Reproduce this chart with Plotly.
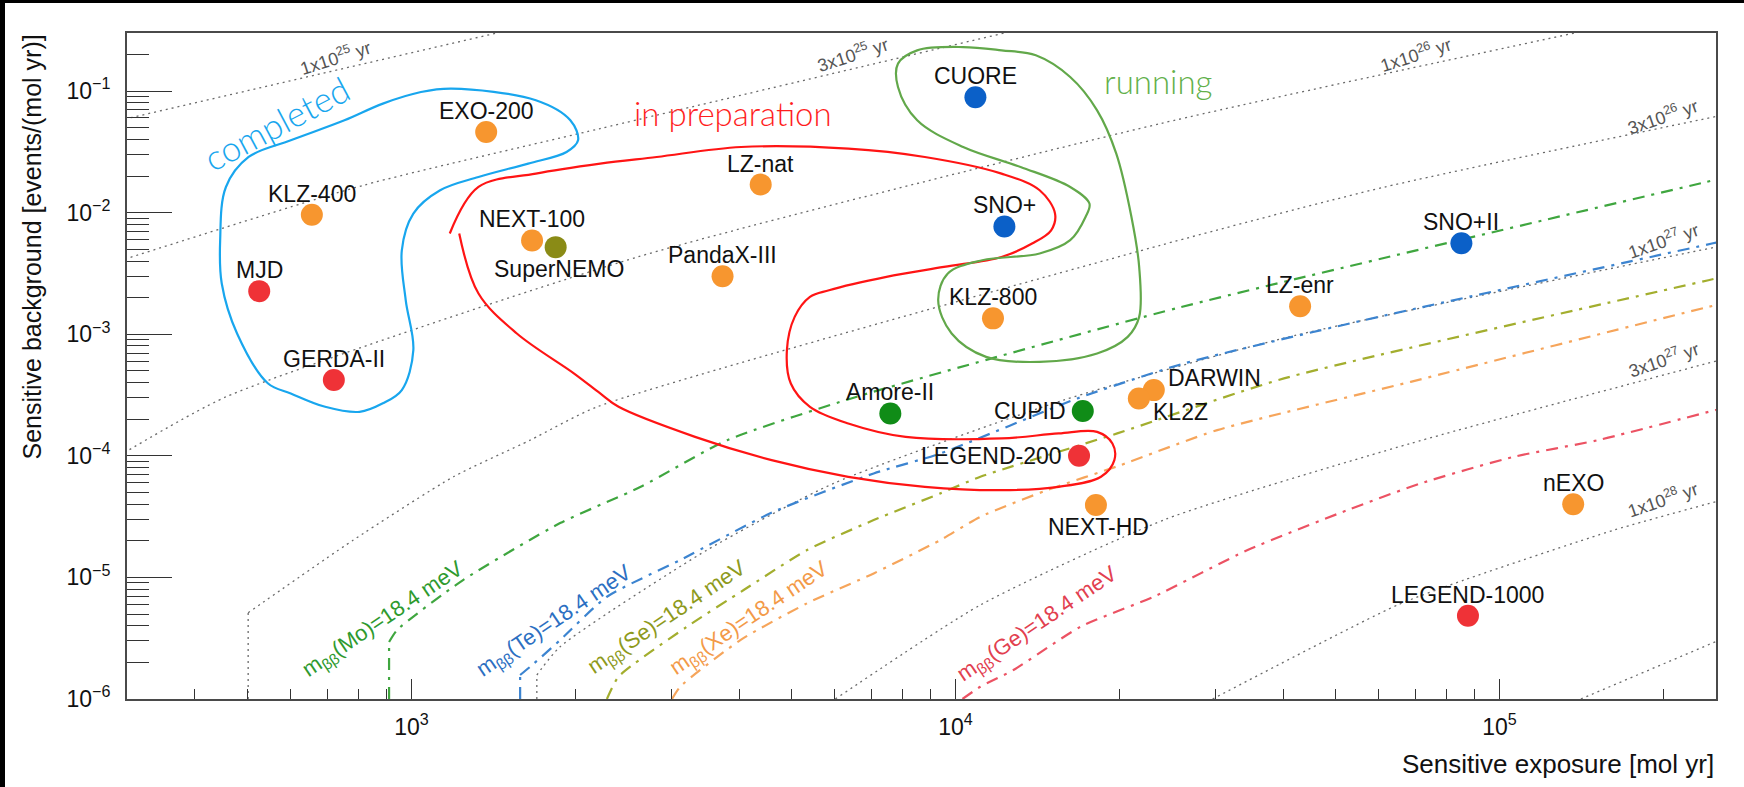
import math
import plotly.graph_objects as go

# ---------------- experiments ----------------
exp_names = ["EXO-200", "KLZ-400", "MJD", "GERDA-II", "NEXT-100", "SuperNEMO", "LZ-nat",
             "PandaX-III", "CUORE", "SNO+", "KLZ-800", "SNO+II", "LZ-enr", "Amore-II",
             "CUPID", "LEGEND-200", "NEXT-HD", "DARWIN", "KL2Z", "nEXO", "LEGEND-1000"]
exp_exposure = [1372, 656, 525, 720, 1666, 1841, 4385, 3731, 10880, 12300, 11720, 85100,
                43000, 7590, 17140, 16870, 18120, 23150, 21730, 136600, 87500]
exp_background = [0.046, 0.0096, 0.00226, 4.2e-4, 0.0059, 0.0052, 0.017, 0.0030, 0.089,
                  0.0077, 0.00135, 0.0056, 0.0017, 2.23e-4, 2.34e-4, 1.0e-4, 3.94e-5,
                  3.47e-4, 2.96e-4, 4.0e-5, 4.84e-6]
exp_isotope = ["Xe", "Xe", "Ge", "Ge", "Xe", "Se", "Xe", "Xe", "Te", "Te", "Xe", "Te", "Xe",
               "Mo", "Mo", "Ge", "Xe", "Xe", "Xe", "Xe", "Ge"]

# ---------------- half-life iso-lines ----------------
t1e25_exposure = [290, 1450]
t1e25_background = [0.0573, 0.303]
t3e25_exposure = [290, 817, 2223, 12500]
t3e25_background = [0.0040, 0.0168, 0.0491, 0.305]
t1e26_exposure = [290, 456, 2605, 23820, 140000]
t1e26_background = [1.0e-4, 3.05e-4, 4.32e-3, 0.054, 0.305]
t3e26_exposure = [501, 501, 782, 1194, 1653, 2195, 23820, 61400, 260000]
t3e26_background = [1e-6, 5.12e-6, 2.03e-5, 6.72e-5, 1.345e-4, 2.53e-4, 5.39e-3, 0.0162, 0.064]
t1e27_exposure = [1700, 1700, 1876, 3493, 5970, 15790, 40110, 260000]
t1e27_background = [1e-6, 1.575e-6, 2.69e-6, 1.678e-5, 5.93e-5, 2.87e-4, 9.28e-4, 5.4e-3]
t3e27_exposure = [6013, 11110, 24300, 68660, 260000]
t3e27_background = [1e-6, 5.93e-6, 3.0e-5, 1.264e-4, 6.3e-4]
t1e28_exposure = [29690, 64920, 86060, 162400, 260000]
t1e28_background = [1e-6, 5.93e-6, 9.51e-6, 2.45e-5, 4.4e-5]
t3e28_exposure = [141100, 260000]
t3e28_background = [1e-6, 3.2e-6]

halflife_lines = [
    (t1e25_exposure, t1e25_background), (t3e25_exposure, t3e25_background),
    (t1e26_exposure, t1e26_background), (t3e26_exposure, t3e26_background),
    (t1e27_exposure, t1e27_background), (t3e27_exposure, t3e27_background),
    (t1e28_exposure, t1e28_background), (t3e28_exposure, t3e28_background),
]
halflife_labels = ["1x10<sup>25</sup> yr", "3x10<sup>25</sup> yr", "1x10<sup>26</sup> yr",
                   "3x10<sup>26</sup> yr", "1x10<sup>27</sup> yr", "3x10<sup>27</sup> yr",
                   "1x10<sup>28</sup> yr"]

# ---------------- m_bb = 18.4 meV discovery curves ----------------
mo_exposure = [909.6, 909.6, 941, 1244, 1876, 2633, 3806, 6544, 25930, 238500, 260000]
mo_background = [1e-6, 2.94e-6, 3.69e-6, 9.51e-6, 2.797e-5, 5.53e-5, 1.345e-4, 3.035e-4,
                 1.668e-3, 0.01776, 0.0195]
te_exposure = [1584, 1584, 1653, 1876, 2287, 3119, 4630, 7073, 9383, 16740, 26290, 56340,
               245700, 260000]
te_background = [1e-6, 1.575e-6, 1.842e-6, 3.05e-6, 6.93e-6, 1.389e-5, 3.46e-5, 7.16e-5,
                 1.046e-4, 2.96e-4, 5.74e-4, 1.304e-3, 5.57e-3, 5.9e-3]
se_exposure = [2287, 2403, 3209, 4080, 5335, 7073, 9383, 11110, 19830, 40160, 242100, 260000]
se_background = [1e-6, 1.525e-6, 3.93e-6, 7.87e-6, 1.678e-5, 2.96e-5, 4.91e-5, 6.72e-5,
                 1.528e-4, 4.33e-4, 2.78e-3, 3.0e-3]
xe_exposure = [3012, 3119, 4023, 5335, 7073, 9383, 11110, 14740, 20110, 30280, 68660,
               242100, 260000]
xe_background = [1e-6, 1.262e-6, 3.05e-6, 6.12e-6, 1.079e-5, 2.03e-5, 3.15e-5, 5.22e-5,
                 8.38e-5, 1.626e-4, 4.06e-4, 1.677e-3, 1.8e-3]
ge_exposure = [10300, 11110, 12780, 16980, 23120, 34430, 52580, 71640, 106200, 151600, 260000]
ge_background = [1e-6, 1.262e-6, 1.731e-6, 3.93e-6, 6.93e-6, 1.678e-5, 3.58e-5, 5.93e-5,
                 9.81e-5, 1.345e-4, 2.5e-4]

# ---------------- status outlines ----------------
completed_exposure = [1185, 1693, 1959, 2024, 1928, 1639, 1328, 1129, 1008, 960, 976, 1008,
                      960, 886, 803, 694, 600, 545, 478, 448, 445, 456, 502, 600, 753, 886,
                      1041, 1185]
completed_background = [0.1046, 0.0839, 0.0574, 0.0393, 0.0315, 0.0253, 0.01963, 0.01527,
                        0.00982, 0.0049, 0.001904, 7.39e-4, 3.47e-4, 2.70e-4, 2.30e-4,
                        2.53e-4, 3.26e-4, 3.93e-4, 1.014e-3, 2.61e-3, 5.93e-3, 0.01625,
                        0.02868, 0.0393, 0.0574, 0.0788, 0.0981, 0.1046]
preparation_exposure = [1176, 1328, 1693, 2223, 2824, 4035, 6352, 8784, 12150, 14280, 15240,
                        14990, 13830, 12150, 9522, 7467, 5855, 5401, 5063, 4899, 4981, 5401,
                        6352, 8097, 12150, 15480, 18210, 19430, 19590, 18510, 15480, 12150,
                        8784, 6352, 4592, 3321, 2403, 2223, 1991, 1562, 1328, 1224]
preparation_background = [6.73e-3, 0.01625, 0.02094, 0.0253, 0.02868, 0.03465, 0.0336,
                          0.02868, 0.02094, 0.01527, 0.00982, 7.16e-3, 5.57e-3, 4.32e-3,
                          3.574e-3, 2.96e-3, 2.30e-3, 2.026e-3, 1.388e-3, 7.39e-4, 3.93e-4,
                          2.53e-4, 1.846e-4, 1.432e-4, 1.39e-4, 1.528e-4, 1.574e-4, 1.264e-4,
                          9.21e-5, 6.72e-5, 5.56e-5, 5.22e-5, 5.56e-5, 6.72e-5, 9.21e-5,
                          1.432e-4, 2.53e-4, 3.26e-4, 4.75e-4, 1.014e-3, 2.16e-3, 6.73e-3]
running_exposure = [14050, 16250, 18210, 19750, 21060, 21760, 21760, 20730, 18210, 14280,
                    11380, 9838, 9294, 9681, 11200, 14280, 16250, 17340, 17630, 16250, 13170,
                    10330, 8504, 7840, 7840, 8504, 10330, 12150, 14050]
running_background = [0.1965, 0.1303, 0.0694, 0.03057, 9.21e-3, 3.57e-3, 1.388e-3, 9.51e-4,
                      6.94e-4, 5.92e-4, 6.51e-4, 1.014e-3, 1.904e-3, 3.155e-3, 4.06e-3,
                      4.61e-3, 5.93e-3, 9.21e-3, 0.01187, 0.01625, 0.02373, 0.03465, 0.0574,
                      0.1079, 0.168, 0.216, 0.230, 0.216, 0.1965]

x_tick_values = [1e3, 1e4, 1e5]
x_tick_labels = ["10<sup>3</sup>", "10<sup>4</sup>", "10<sup>5</sup>"]
y_tick_values = [1e-6, 1e-5, 1e-4, 1e-3, 1e-2, 1e-1]
y_tick_labels = ["10<sup>\u22126</sup>", "10<sup>\u22125</sup>", "10<sup>\u22124</sup>",
                 "10<sup>\u22123</sup>", "10<sup>\u22122</sup>", "10<sup>\u22121</sup>"]

# ---------------- styling ----------------
W, H = 1744, 787
ML, MR, MT, MB = 127, 28, 33, 88
PW, PH = W - ML - MR, H - MT - MB

FONT = "Liberation Sans, Arial, Helvetica, sans-serif"
THIN = "Lato Light, Open Sans Light, Roboto Light, Lato, Open Sans, sans-serif"
dot_colors = {"Xe": "#F7962F", "Ge": "#EF3237", "Te": "#0B60C8", "Mo": "#108C17", "Se": "#8A8B16"}
GRAY = "#6A6A6A"
DASHDOT = "12px,7px,3px,7px"


def px_to_paper(x, y):
    return (x - ML) / PW, (H - MB - y) / PH


fig = go.Figure()


def add_curve(xs, ys, line_style):
    """Draw a sensitivity curve; a leading vertical (background-free) segment
    is kept straight so the knee stays sharp, the rest is smoothed."""
    if len(xs) > 2 and xs[0] == xs[1]:
        fig.add_trace(go.Scatter(x=xs[:2], y=ys[:2], mode="lines", hoverinfo="skip",
                                 showlegend=False, line=dict(line_style, shape="linear")))
        xs, ys = xs[1:], ys[1:]
    fig.add_trace(go.Scatter(x=xs, y=ys, mode="lines", hoverinfo="skip", showlegend=False,
                             line=dict(line_style, shape="spline", smoothing=0.6)))


for xs, ys in halflife_lines:
    add_curve(xs, ys, dict(color=GRAY, width=1.3, dash="2px,4px"))

mbb_curves = [
    (mo_exposure, mo_background, "#3FA63F"),
    (te_exposure, te_background, "#3C84D0"),
    (se_exposure, se_background, "#A3AE2E"),
    (xe_exposure, xe_background, "#F6A55B"),
    (ge_exposure, ge_background, "#EC5263"),
]
for xs, ys, col in mbb_curves:
    add_curve(xs, ys, dict(color=col, width=2.2, dash=DASHDOT))

outlines = [
    (completed_exposure, completed_background, "#18A6EE"),
    (preparation_exposure, preparation_background, "#FF1414"),
    (running_exposure, running_background, "#62A84A"),
]
for xs, ys, col in outlines:
    fig.add_trace(go.Scatter(x=xs, y=ys, mode="lines", hoverinfo="skip", showlegend=False,
                             line=dict(color=col, width=2.2, shape="spline", smoothing=1.0)))

fig.add_trace(go.Scatter(
    x=exp_exposure, y=exp_background, mode="markers", hoverinfo="skip", showlegend=False,
    marker=dict(size=22, color=[dot_colors[i] for i in exp_isotope], line=dict(width=0)),
))

annotations = []

# experiment names
label_side = {"SuperNEMO": "below", "NEXT-HD": "below", "CUPID": "left",
              "LEGEND-200": "left", "DARWIN": "upright", "KL2Z": "downright"}
for name, ex, bg in zip(exp_names, exp_exposure, exp_background):
    side = label_side.get(name, "above")
    a = dict(x=math.log10(ex), y=math.log10(bg), xref="x", yref="y", text=name,
             showarrow=False, font=dict(family=FONT, size=23, color="#111111"))
    if side == "above":
        a.update(xanchor="center", yanchor="middle", yshift=21)
    elif side == "below":
        a.update(xanchor="center", yanchor="middle", yshift=-22, xshift=3)
    elif side == "left":
        a.update(xanchor="right", yanchor="middle", xshift=-15)
    elif side == "upright":
        a.update(xanchor="left", yanchor="middle", xshift=12, yshift=12)
    elif side == "downright":
        a.update(xanchor="left", yanchor="middle", xshift=12, yshift=-13)
    annotations.append(a)

# half-life labels
halflife_label_pos = [(335, 58, -18), (852, 54, -18), (1415, 54, -18), (1662, 116, -19),
                      (1663, 241, -19), (1663, 359, -19), (1662, 499, -19)]
for txt, (px, py, ang) in zip(halflife_labels, halflife_label_pos):
    xp, yp = px_to_paper(px, py)
    annotations.append(dict(x=xp, y=yp, xref="paper", yref="paper", text=txt, showarrow=False,
                            textangle=ang, xanchor="center", yanchor="middle",
                            font=dict(family=FONT, size=18, color="#555555")))

# m_bb labels
mbb_labels = [("Mo", "#2E9A2E", 383, 620), ("Te", "#2C6FC2", 554, 622),
              ("Se", "#8E9A1C", 667, 618), ("Xe", "#F39A48", 749, 619),
              ("Ge", "#E2404F", 1037, 625)]
for iso, col, px, py in mbb_labels:
    xp, yp = px_to_paper(px, py)
    annotations.append(dict(x=xp, y=yp, xref="paper", yref="paper",
                            text=f"m<sub>\u03b2\u03b2</sub>({iso})=18.4 meV", showarrow=False,
                            textangle=-34, xanchor="center", yanchor="middle",
                            font=dict(family=FONT, size=22, color=col)))

# status captions
captions = [("completed", "#18A6EE", 276, 123, -28, 35),
            ("in preparation", "#FF1E1E", 733, 113, 0, 33),
            ("running", "#62B04A", 1158, 81, 0, 33)]
for txt, col, px, py, ang, sz in captions:
    xp, yp = px_to_paper(px, py)
    annotations.append(dict(x=xp, y=yp, xref="paper", yref="paper", text=txt, showarrow=False,
                            textangle=ang, xanchor="center", yanchor="middle",
                            font=dict(family=THIN, size=sz, color=col, weight=300)))

# axis titles
annotations.append(dict(x=1.0, y=px_to_paper(0, 764)[1], xref="paper", yref="paper",
                        text="Sensitive exposure [mol yr]", showarrow=False,
                        xanchor="right", yanchor="middle",
                        font=dict(family=FONT, size=26, color="#111111")))
annotations.append(dict(x=px_to_paper(31, 0)[0], y=1.0, xref="paper", yref="paper",
                        text="Sensitive background [events/(mol yr)]", showarrow=False,
                        textangle=-90, xanchor="center", yanchor="top",
                        font=dict(family=FONT, size=25, color="#111111")))

# black frame strips along the left and top edges of the picture
shapes = [
    dict(type="rect", xref="paper", yref="paper", x0=px_to_paper(0, 0)[0], x1=px_to_paper(5, 0)[0],
         y0=px_to_paper(0, H)[1], y1=px_to_paper(0, 0)[1], fillcolor="black", line=dict(width=0)),
    dict(type="rect", xref="paper", yref="paper", x0=px_to_paper(0, 0)[0], x1=px_to_paper(W, 0)[0],
         y0=px_to_paper(0, 3)[1], y1=px_to_paper(0, 0)[1], fillcolor="black", line=dict(width=0)),
]

x_minor = [m * 10 ** e for e in (2, 3, 4, 5) for m in range(2, 10)]
y_minor = [m * 10.0 ** e for e in (-6, -5, -4, -3, -2, -1) for m in range(2, 10)]

fig.update_layout(
    width=W, height=H,
    margin=dict(l=ML, r=MR, t=MT, b=MB),
    paper_bgcolor="white", plot_bgcolor="white",
    annotations=annotations, shapes=shapes,
    xaxis=dict(type="log", range=[math.log10(300), math.log10(2.5e5)],
               tickmode="array", tickvals=x_tick_values, ticktext=x_tick_labels,
               ticks="inside", ticklen=20, tickwidth=1.4, tickcolor="#333333",
               showline=True, linecolor="#4A4A4A", linewidth=2, mirror=True,
               showgrid=False, zeroline=False, ticklabelstandoff=6,
               tickfont=dict(family=FONT, size=23, color="#111111"),
               minor=dict(tickmode="array", tickvals=x_minor, ticks="inside", ticklen=10,
                          tickwidth=1.2, tickcolor="#333333", showgrid=False)),
    yaxis=dict(type="log", range=[-6, math.log10(0.3)],
               tickmode="array", tickvals=y_tick_values, ticktext=y_tick_labels,
               ticks="inside", ticklen=45, tickwidth=1.4, tickcolor="#333333",
               showline=True, linecolor="#4A4A4A", linewidth=2, mirror=True,
               showgrid=False, zeroline=False, ticklabelstandoff=10,
               tickfont=dict(family=FONT, size=23, color="#111111"),
               minor=dict(tickmode="array", tickvals=y_minor, ticks="inside", ticklen=22,
                          tickwidth=1.2, tickcolor="#333333", showgrid=False)),
)

fig.write_html("out.html")
